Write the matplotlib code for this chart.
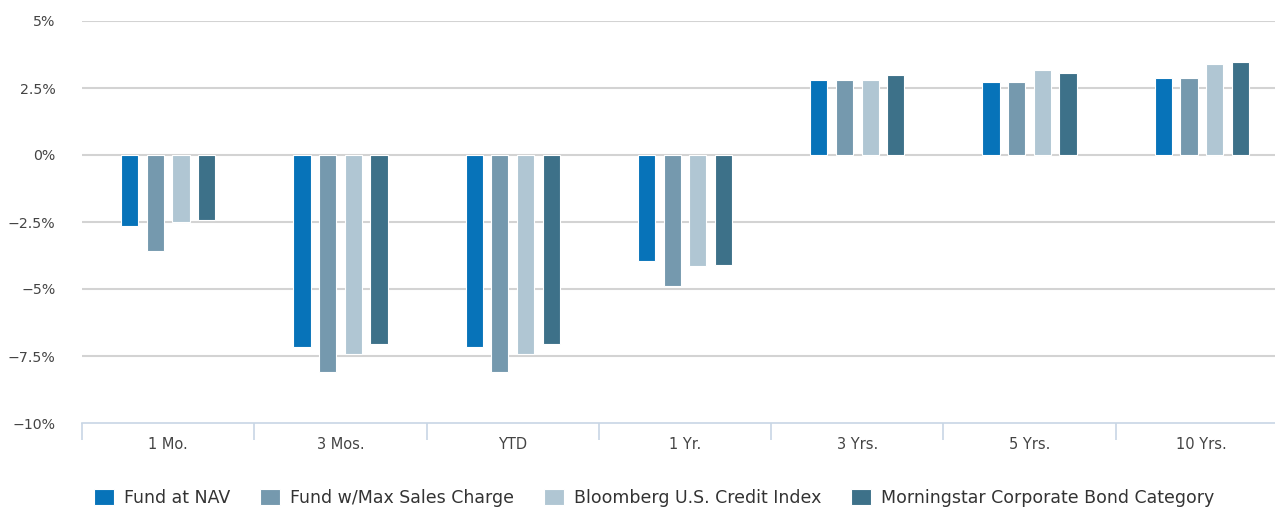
import matplotlib.pyplot as plt
import numpy as np

# Периоды и доходности (%)
periods = ['1 Mo.', '3 Mos.', 'YTD', '1 Yr.', '3 Yrs.', '5 Yrs.', '10 Yrs.']
series_names = ['Fund at NAV', 'Fund w/Max Sales Charge',
                'Bloomberg U.S. Credit Index', 'Morningstar Corporate Bond Category']
fund_nav = [-2.64, -7.16, -7.16, -3.96, 2.80, 2.72, 2.86]
fund_max = [-3.57, -8.08, -8.08, -4.90, 2.79, 2.72, 2.86]
bloomberg = [-2.51, -7.41, -7.41, -4.16, 2.79, 3.16, 3.40]
morningstar = [-2.41, -7.06, -7.06, -4.11, 2.97, 3.07, 3.46]
y_ticks = [5, 2.5, 0, -2.5, -5, -7.5, -10]
y_labels = ['5%', '2.5%', '0%', '\u22122.5%', '\u22125%', '\u22127.5%', '\u221210%']

colors = ['#0773b9', '#7599ae', '#b0c6d3', '#3d7189']

fig = plt.figure(figsize=(12.75, 5.08), dpi=100)
# ось выходит за правый край картинки, как в оригинале
ax = fig.add_axes([82 / 1275, 85 / 508, 1206 / 1275, 402 / 508])

x = np.arange(len(periods))
width = 0.1
step = 0.149
all_series = [fund_nav, fund_max, bloomberg, morningstar]
for i, vals in enumerate(all_series):
    ax.bar(x + (i - 1.5) * step, vals, width=width, color=colors[i],
           edgecolor='white', linewidth=0.8, label=series_names[i], zorder=3)

ax.set_xlim(-0.5, len(periods) - 0.5)
ax.set_ylim(-10, 5)
ax.set_yticks(y_ticks)
ax.set_yticklabels(y_labels)
for y in y_ticks[:-1]:
    ax.axhline(y, color='#d3d3d3', linewidth=1.5, zorder=1)

ax.set_xticks(x)
ax.set_xticklabels(periods)
ax.set_xticks(np.arange(len(periods) + 1) - 0.5, minor=True)
ax.tick_params(axis='x', which='major', length=0, pad=10, labelsize=10.5, labelcolor='#444444')
ax.tick_params(axis='x', which='minor', length=12, width=1.2, color='#c8d6e5', direction='out')
ax.tick_params(axis='y', length=0, pad=19, labelsize=10.2, labelcolor='#444444')

for s in ['top', 'right', 'left']:
    ax.spines[s].set_visible(False)
ax.spines['bottom'].set_color('#c8d6e5')
ax.spines['bottom'].set_linewidth(1.2)

leg = fig.legend(loc='center', bbox_to_anchor=(0.513, 0.0197), ncol=4, frameon=False,
                 fontsize=12.5, handlelength=1.15, handleheight=1.0, handletextpad=0.6,
                 columnspacing=1.7, labelcolor='#333333')

plt.savefig('out.png', dpi=100)
